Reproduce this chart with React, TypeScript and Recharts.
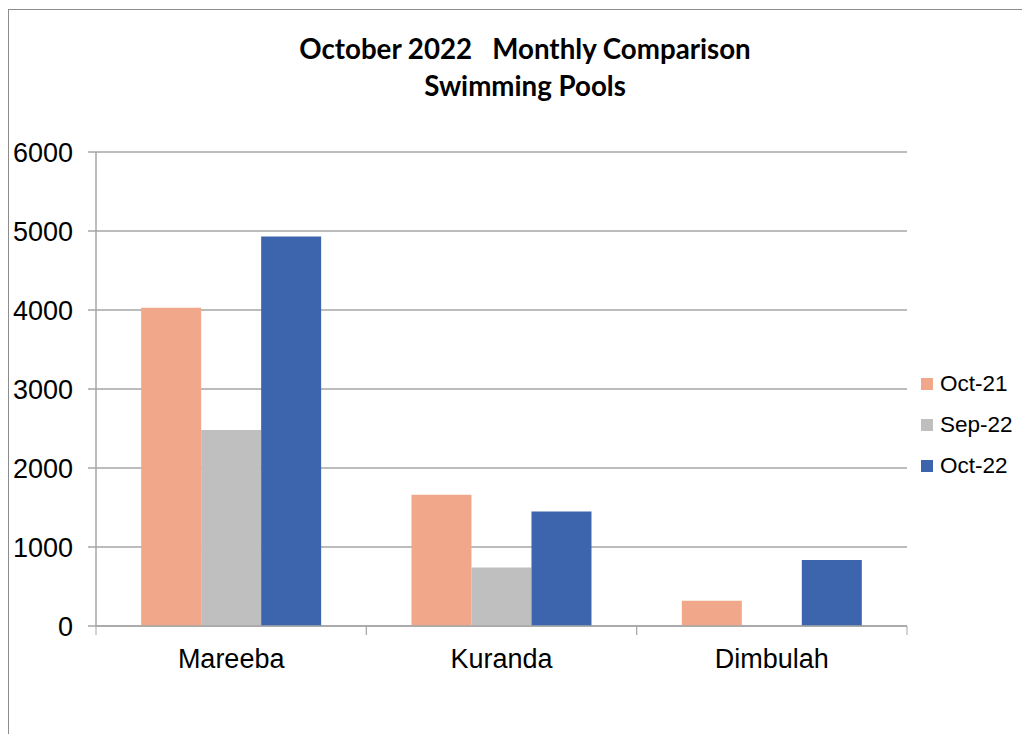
import React from 'react';
import { BarChart, Bar, XAxis, YAxis, CartesianGrid, Legend } from 'recharts';

const categories = ['Mareeba', 'Kuranda', 'Dimbulah'];
const seriesNames = ['Oct-21', 'Sep-22', 'Oct-22'];
const oct21 = [4030, 1660, 320];
const sep22 = [2480, 740, 0];
const oct22 = [4930, 1450, 835];
const yTicks = [0, 1000, 2000, 3000, 4000, 5000, 6000];
const colors = ['#F1A88A', '#BFBFBF', '#3D65AE'];
const titleLines = ['October 2022\u00a0\u00a0\u00a0Monthly Comparison', 'Swimming Pools'];

const data = categories.map((c, i) => ({
  name: c,
  [seriesNames[0]]: oct21[i],
  [seriesNames[1]]: sep22[i],
  [seriesNames[2]]: oct22[i],
}));

const AXIS = '#A6A6A6';
const FONT = '"Liberation Sans", Arial, sans-serif';

const CatTick = (props: any) => {
  const { x, y, payload } = props;
  const off = payload && typeof payload.offset === 'number' ? payload.offset : 0;
  return (
    <g>
      <line x1={x - off} x2={x - off} y1={y - 23} y2={y - 14} stroke={AXIS} strokeWidth={1} />
      <line x1={x + off} x2={x + off} y1={y - 23} y2={y - 14} stroke={AXIS} strokeWidth={1} />
      <text x={x} y={y} dy="0.71em" textAnchor="middle" fill="#000" fontSize={27} fontFamily={FONT}>
        {payload.value}
      </text>
    </g>
  );
};

const LegendContent = () => (
  <div style={{ fontFamily: FONT, fontSize: 22.5, color: '#000' }}>
    {seriesNames.map((n, i) => (
      <div key={n} style={{ display: 'flex', alignItems: 'center', height: 41 }}>
        <span style={{ display: 'inline-block', width: 12, height: 12, background: colors[i], marginRight: 7 }} />
        <span>{n}</span>
      </div>
    ))}
  </div>
);

export default function App() {
  return (
    <div
      style={{
        position: 'relative',
        width: 1021,
        height: 725,
        borderTop: '1px solid #8c8c8c',
        borderLeft: '1px solid #8c8c8c',
        marginTop: 1,
        background: '#fff',
      }}
    >
      <div
        style={{
          position: 'absolute',
          left: 0,
          width: 1032,
          top: 20,
          textAlign: 'center',
          fontFamily: 'Lato, "Open Sans", sans-serif',
          fontWeight: 700,
          fontSize: 27.7,
          lineHeight: '37px',
          color: '#000',
        }}
      >
        {titleLines.map((t) => (
          <div key={t}>{t}</div>
        ))}
      </div>
      <BarChart
        width={1021}
        height={725}
        data={data}
        margin={{ top: 142, right: 123, left: 7, bottom: 49 }}
        barCategoryGap="16.7%"
        barGap={0}
      >
        <CartesianGrid horizontal vertical={false} stroke={AXIS} strokeWidth={1.5} />
        <XAxis
          dataKey="name"
          height={60}
          axisLine={{ stroke: AXIS, strokeWidth: 1.5 }}
          tickLine={false}
          tickSize={0}
          tickMargin={23}
          tick={<CatTick />}
        />
        <YAxis
          width={80}
          domain={[0, 6000]}
          ticks={yTicks}
          interval={0}
          axisLine={{ stroke: AXIS, strokeWidth: 1.5 }}
          tickLine={{ stroke: AXIS, strokeWidth: 1.5 }}
          tickSize={8}
          tickMargin={15}
          tick={{ fill: '#000', fontSize: 27, fontFamily: FONT }}
        />
        <Legend
          layout="horizontal"
          align="center"
          verticalAlign="middle"
          content={<LegendContent />}
          wrapperStyle={{ left: 912, top: 353, width: 110 }}
        />
        {seriesNames.map((n, i) => (
          <Bar key={n} dataKey={n} fill={colors[i]} isAnimationActive={false} />
        ))}
      </BarChart>
    </div>
  );
}
